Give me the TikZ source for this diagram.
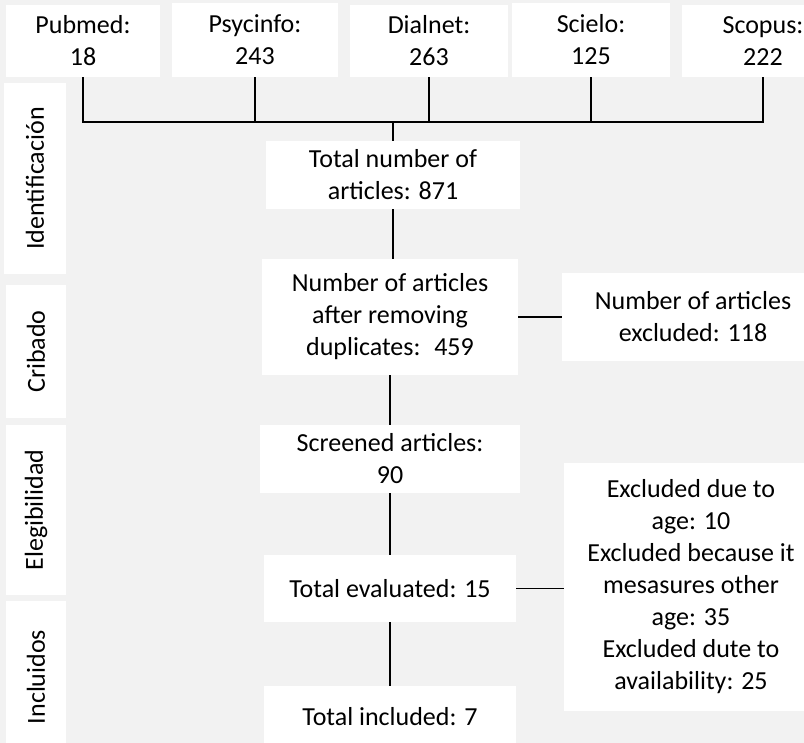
\documentclass[tikz,border=0pt]{standalone}
\usepackage{fontspec}
\setmainfont{Carlito}
\begin{document}
\begin{tikzpicture}[x=1bp,y=-1bp,
  box/.style={fill=white, inner sep=0pt, align=center, font=\fontsize{26bp}{32bp}\selectfont},
  conn/.style={draw=black, line width=1.6bp}]
\clip (0,0) rectangle (804,743);
\fill[black!5] (0,0) rectangle (804,743);
% sources
\node[box, minimum width=154bp, minimum height=72bp] (pub) at (83,41) {Pubmed:\\18};
\node[box, minimum width=166bp, minimum height=74bp] (psy) at (255,40) {Psycinfo:\\243};
\node[box, minimum width=158bp, minimum height=72bp] (dia) at (429,41) {Dialnet:\\263};
\node[box, minimum width=158bp, minimum height=74bp] (sci) at (591,40) {Scielo:\\125};
\node[box, minimum width=162bp, minimum height=72bp] (sco) at (763,41) {Scopus:\\222};
% stage labels
\node[box, minimum height=62bp, minimum width=191bp, rotate=90] (lid) at (35,178.5) {Identificación};
\node[box, minimum height=60bp, minimum width=133bp, rotate=90] (lcr) at (36,351.5) {Cribado};
\node[box, minimum height=60bp, minimum width=170bp, rotate=90] (lel) at (36,510) {Elegibilidad};
\node[box, minimum height=60bp, minimum width=152bp, rotate=90] (lin) at (36,677) {Incluidos};
% main flow
\node[box, minimum width=254bp, minimum height=68bp] (tot) at (393,175) {Total number of\\articles: 871};
\node[box, minimum width=256bp, minimum height=116bp] (dup) at (390,317) {Number of articles\\after removing\\duplicates:~ 459};
\node[box, minimum width=262bp, minimum height=88bp] (ex1) at (693,317) {Number of articles\\excluded: 118};
\node[box, minimum width=260bp, minimum height=68bp] (scr) at (390,459) {Screened articles:\\90};
\node[box, minimum width=252bp, minimum height=67bp] (eva) at (390,588.5) {Total evaluated: 15};
\node[box, minimum width=254bp, minimum height=248bp] (ex2) at (691,587) {Excluded due to\\age: 10\\Excluded because it\\mesasures other\\age: 35\\Excluded dute to\\availability: 25};
\node[box, minimum width=252bp, minimum height=62bp] (inc) at (390,717) {Total included: 7};
% connectors
\coordinate (bus) at (393,122);
\draw[conn] (pub.south) -- (pub.south |- bus) -| (sco.south);
\draw[conn] (psy.south) -- (psy.south |- bus);
\draw[conn] (dia.south) -- (dia.south |- bus);
\draw[conn] (sci.south) -- (sci.south |- bus);
\draw[conn] (bus) -- (tot.north);
\draw[conn] (tot.south) -- (tot.south |- dup.north);
\draw[conn] (dup.east) -- (ex1.west);
\draw[conn] (dup.south) -- (scr.north);
\draw[conn] (scr.south) -- (eva.north);
\draw[conn] (eva.east) -- (eva.east -| ex2.west);
\draw[conn] (eva.south) -- (inc.north);
\end{tikzpicture}
\end{document}
